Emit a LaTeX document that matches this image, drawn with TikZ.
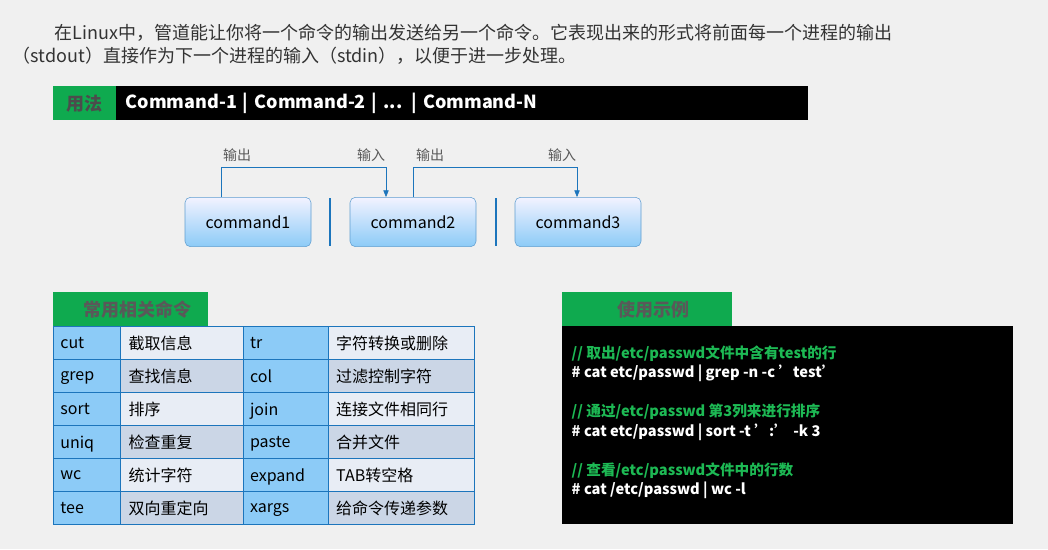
\documentclass[tikz,border=0pt]{standalone}
\usepackage{fontspec}
\setmainfont{Noto Sans CJK SC}
\usetikzlibrary{positioning}
\usetikzlibrary{calc}
\usetikzlibrary{arrows.meta}
\definecolor{pipegreen}{HTML}{0FAA4F}
\definecolor{pipeblue}{HTML}{1C75BC}
\definecolor{cellblue}{HTML}{8CCBF7}
\definecolor{celllight}{HTML}{E8EDF5}
\definecolor{celldark}{HTML}{CBD6E6}
\definecolor{codegreen}{HTML}{1DB954}
\tikzset{cmdbox/.style={
		rectangle,
		rounded corners=4pt,
		draw=pipeblue!70,
		top color=blue!5,
		bottom color=cellblue,
		minimum width=94.5pt,
		minimum height=37pt,
		font=\fontsize{12}{14}\selectfont,
	},
}
\tikzset{sep/.style={
		draw=pipeblue,
		line width=2pt,
	},
}
\tikzset{flow/.style={
		draw=pipeblue,
		-{Triangle[length=5pt,width=4pt]},
	},
}
\tikzset{cell/.style={
		rectangle,
		draw=pipeblue,
		thick,
		anchor=north west,
		inner sep=0pt,
		text depth=0pt,
		font=\fontsize{12}{14}\selectfont,
	},
}
\tikzset{tag/.style={
		rectangle,
		fill=pipegreen,
		inner sep=0pt,
		anchor=north west,
		font=\bfseries\fontsize{13.5}{16}\selectfont,
	},
}
\newcommand{\cellrow}[5]{%
	\node[cell, fill=cellblue, minimum width=50.25pt, minimum height=24.75pt, text width=40pt] (n#1) at (53,#2) {#3};
	\node[cell, fill=#5, minimum width=92.25pt, minimum height=24.75pt, text width=80pt] (d#1) at (120,#2) {#4};
}
\begin{document}
\begin{tikzpicture}[x=0.75pt, y=-0.75pt]

% frame
\fill[gray!12] (0,0) rectangle (1048,549);
\useasboundingbox (0,0) rectangle (1048,549);

% intro
\node[anchor=west, font=\fontsize{13.5}{16}\selectfont, text=black!80] (intro1) at (50,33) {在Linux中，管道能让你将一个命令的输出发送给另一个命令。它表现出来的形式将前面每一个进程的输出};
\node[anchor=west, font=\fontsize{13.5}{16}\selectfont, text=black!80] (intro2) at (8,56) {（stdout）直接作为下一个进程的输入（stdin），以便于进一步处理。};

% usage bar
\node[tag, minimum width=47.25pt, minimum height=25.5pt, text=black!70] (usage) at (53,86) {用法};
\node[rectangle, fill=black, anchor=north west, minimum width=519pt, minimum height=25.5pt, text=white, font=\bfseries\fontsize{13.5}{16}\selectfont, text width=505pt] (syntax) at (116,86) {Command-1 | Command-2 | ... | Command-N};

% pipeline
\node[cmdbox] (c1) at (248,222) {command1};
\node[cmdbox] (c2) at (413,222) {command2};
\node[cmdbox] (c3) at (578,222) {command3};
\draw[sep] (330,198) -- (330,246);
\draw[sep] (496,198) -- (496,246);
\coordinate (o1) at (221,167);
\coordinate (i1) at (386,167);
\coordinate (o2) at (413,167);
\coordinate (i2) at (577,167);
\draw[flow] (o1|-c1.north) -- (o1) -- (i1) -- (i1|-c2.north);
\draw[flow] (o2|-c2.north) -- (o2) -- (i2) -- (i2|-c3.north);
\node[font=\fontsize{10.5}{12}\selectfont, text=black!65] at (237,155) {输出};
\node[font=\fontsize{10.5}{12}\selectfont, text=black!65] at (371,155) {输入};
\node[font=\fontsize{10.5}{12}\selectfont, text=black!65] at (430,155) {输出};
\node[font=\fontsize{10.5}{12}\selectfont, text=black!65] at (562,155) {输入};

% commands table
\node[tag, minimum width=116.25pt, minimum height=25.5pt, text=black!65] (common) at (53,292) {\hspace*{10pt}常用相关命令\hfill};
\cellrow{1}{326}{cut}{截取信息}{celllight}
\cellrow{2}{359}{grep}{查找信息}{celldark}
\cellrow{3}{392}{sort}{排序}{celllight}
\cellrow{4}{425}{uniq}{检查重复}{celldark}
\cellrow{5}{458}{wc}{统计字符}{celllight}
\cellrow{6}{491}{tee}{双向重定向}{celldark}
\foreach \y/\c/\d/\f in {326/tr/字符转换或删除/celllight, 359/col/过滤控制字符/celldark, 392/join/连接文件相同行/celllight, 425/paste/合并文件/celldark, 458/expand/TAB转空格/celllight, 491/xargs/给命令传递参数/celldark}{
	\node[cell, fill=cellblue, minimum width=63.75pt, minimum height=24.75pt, text width=54pt] at (243,\y) {\c};
	\node[cell, fill=\f, minimum width=109.5pt, minimum height=24.75pt, text width=98pt] at (328,\y) {\d};
}

% example panel
\node[tag, minimum width=127.5pt, minimum height=25.5pt, text=black!65] (example) at (562,292) {\hspace*{10pt}使用示例\hfill};
\node[rectangle, fill=black, anchor=north west, minimum width=338.25pt, minimum height=148.5pt] (code) at (562,326) {};
\node[anchor=north west, align=left, text=white, font=\bfseries\fontsize{11}{14.6}\selectfont] (lines) at (567,341) {%
	\textcolor{codegreen}{// 取出/etc/passwd文件中含有test的行}\\
	\# cat etc/passwd | grep -n -c 'test'\\[14.6pt]
	\textcolor{codegreen}{// 通过/etc/passwd 第3列来进行排序}\\
	\# cat etc/passwd | sort -t ':' -k 3\\[14.6pt]
	\textcolor{codegreen}{// 查看/etc/passwd文件中的行数}\\
	\# cat /etc/passwd | wc -l};

\end{tikzpicture}
\end{document}
